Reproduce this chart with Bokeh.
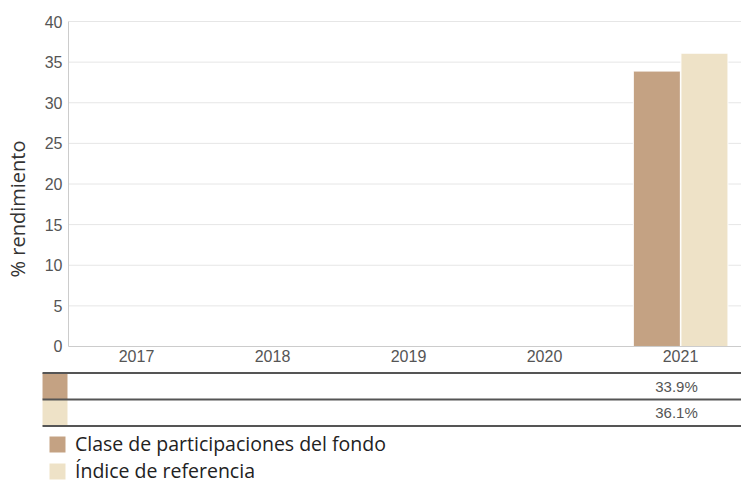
import math
from bokeh.plotting import figure
from bokeh.models import Range1d, Legend, LegendItem, ColumnDataSource
from bokeh.transform import dodge
from bokeh.core.properties import value
from bokeh.embed import file_html
from bokeh.resources import INLINE

years = ["2017", "2018", "2019", "2020", "2021"]
fund = [None, None, None, None, 33.9]
index_ref = [None, None, None, None, 36.1]
series_names = ["Clase de participaciones del fondo", "Índice de referencia"]
colors = ["#C4A283", "#EEE2C7"]
y_ticks = [0, 5, 10, 15, 20, 25, 30, 35, 40]
y_title = "% rendimiento"

xs = [i + 0.5 for i in range(len(years))]
nan = float("nan")
src = ColumnDataSource(dict(
    x=xs,
    fund=[nan if v is None else v for v in fund],
    idx=[nan if v is None else v for v in index_ref],
))

X_START, X_END = -0.5, 4.9485
Y_LO, Y_HI = -16.862, 42.585
p = figure(width=741, height=483, x_range=Range1d(X_START, X_END), y_range=Range1d(Y_LO, Y_HI),
           output_backend="svg", toolbar_location=None, x_axis_type=None, y_axis_type=None,
           min_border=0, min_border_left=0, min_border_right=0, min_border_top=0, min_border_bottom=0)
p.outline_line_color = None
p.grid.visible = False
p.extra_y_ranges = {"table": Range1d(-2.182, 16.114)}

ymin, ymax = min(y_ticks), max(y_ticks)
# grid lines
p.segment(x0=[0] * (len(y_ticks) - 1), x1=[X_END] * (len(y_ticks) - 1),
          y0=y_ticks[1:], y1=y_ticks[1:], line_color="#e6e6e6", line_width=1)
# bars
p.vbar(x=dodge("x", -0.174, range=p.x_range), top="fund", width=0.346, source=src,
       fill_color=colors[0], line_color="white", line_width=1)
p.vbar(x=dodge("x", 0.176, range=p.x_range), top="idx", width=0.346, source=src,
       fill_color=colors[1], line_color="white", line_width=1)
# axis lines
p.segment(x0=[0, 0], x1=[0, X_END], y0=[ymin, ymin], y1=[ymax, ymin], line_color="#cccccc", line_width=1)
# tick labels
p.text(x=[0] * len(y_ticks), y=y_ticks, text=[str(t) for t in y_ticks], text_align="right",
       text_baseline="middle", x_offset=-6, text_font=value("Liberation Sans"),
       text_font_size="16px", text_color="#555555")
p.text(x=xs, y=[ymin] * len(xs), text=years, text_align="center", text_baseline="top",
       y_offset=4, text_font=value("Liberation Sans"), text_font_size="16px", text_color="#555555")
p.text(x=[-0.375], y=[16.92], text=[y_title], angle=math.pi / 2, text_align="center",
       text_baseline="middle", text_font=value("Open Sans"), text_font_size="20px", text_color="#333333")

# table
sw_left = -0.191
sw_right = -0.0074
r1 = p.quad(left=[sw_left], right=[sw_right], bottom=[1], top=[2], fill_color=colors[0],
            line_color=None, y_range_name="table")
r2 = p.quad(left=[sw_left], right=[sw_right], bottom=[0], top=[1], fill_color=colors[1],
            line_color=None, y_range_name="table")
p.segment(x0=[sw_left] * 3, x1=[X_END] * 3, y0=[2, 1, 0], y1=[2, 1, 0], line_color="#555555",
          line_width=2, y_range_name="table")
for vals, row in ((fund, 1.5), (index_ref, 0.5)):
    tx = [xs[i] for i, v in enumerate(vals) if v is not None]
    tt = [f"{v:.1f}%" for v in vals if v is not None]
    p.text(x=tx, y=[row] * len(tx), text=tt, text_align="center", text_baseline="middle",
           x_offset=-4, text_font=value("Liberation Sans"), text_font_size="15px",
           text_color="#555555", y_range_name="table")

leg = Legend(items=[LegendItem(label=series_names[0], renderers=[r1]),
                    LegendItem(label=series_names[1], renderers=[r2])],
             location=(47, -1), margin=0, padding=0, glyph_width=20, glyph_height=20,
             spacing=0, label_standoff=8, label_height=20,
             label_text_font="Open Sans", label_text_font_size="19.5px", label_text_color="#222222",
             background_fill_alpha=0, border_line_color=None)
p.add_layout(leg, "center")

open("out.html", "w").write(file_html(p, INLINE))
